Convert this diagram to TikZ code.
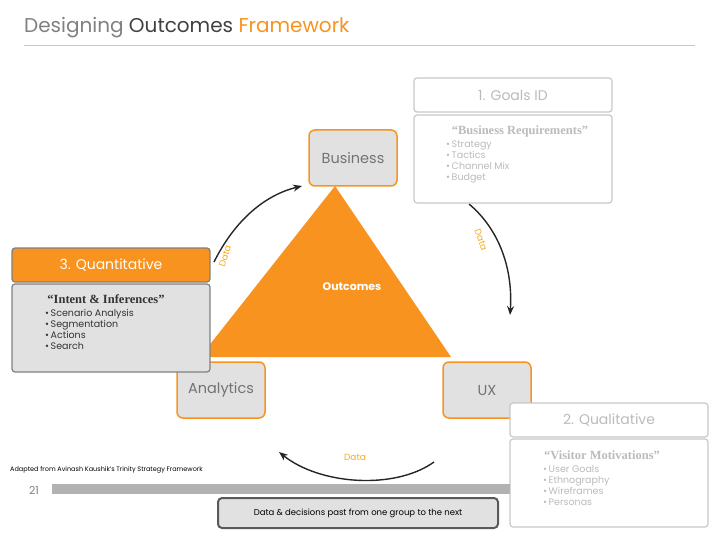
\documentclass[tikz,border=0pt]{standalone}
\usepackage{fontspec}
\usetikzlibrary{arrows.meta}
\setmainfont{Poppins}
\newfontfamily\serifb{Liberation Serif}
\definecolor{org}{HTML}{F7931E}
\definecolor{lg}{HTML}{C8C8C8}
\definecolor{bx}{HTML}{E1E1E1}
\definecolor{tg}{HTML}{BBBBBB}
\definecolor{dg}{HTML}{808080}
\begin{document}
\begin{tikzpicture}[x=1pt,y=-1pt,
 corner/.style={draw=org,line width=1.5pt,fill=bx,rounded corners=6pt,minimum width=88pt,minimum height=56pt,font=\fontsize{14.5}{14.5}\selectfont,text=dg!90!black},
 faint/.style={draw=lg,line width=1.2pt,fill=white,rounded corners=3pt},
 bul/.style={font=\fontsize{9.5}{11}\selectfont,align=left,anchor=north west,inner sep=0pt},
 datal/.style={font=\fontsize{9}{9}\selectfont,text=org!80!yellow,inner sep=0pt},
 arc/.style={line width=1.4pt,draw=black!85,-{Stealth[length=9pt,width=7pt]}}]
\useasboundingbox (0,0) rectangle (720,540);
\node[anchor=west,inner sep=0pt,font=\fontsize{20}{20}\selectfont] (title) at (24,28) {\textcolor{dg}{Designing} \textcolor{black!75}{Outcomes} \textcolor{org}{Framework}};
\draw[lg,line width=0.8pt] (24,45) coordinate (ul1) -- (695,45) coordinate (ul2);
% triangle
\coordinate (ta) at (335,186); \coordinate (tb) at (200,357); \coordinate (tc) at (451,357);
\fill[org] (ta) -- (tb) -- (tc) -- cycle;
\node[text=white,font=\fontsize{11}{11}\selectfont\bfseries] (out) at (352,287) {Outcomes};
\node[corner] (bus) at (353,158) {Business};
\node[corner] (ana) at (221,390) {Analytics};
\node[corner] (ux) at (487,390) {UX};
% arcs
\coordinate (a1s) at (214,262); \coordinate (a1e) at (302,186);
\draw[arc] (a1s) .. controls (235,220) and (265,195) .. (a1e);
\node[datal,rotate=72] (d1) at (225,256) {Data};
\coordinate (a2s) at (469,204); \coordinate (a2e) at (510,315);
\draw[arc] (a2s) .. controls (500,230) and (513,270) .. (a2e);
\node[datal,rotate=-70] (d2) at (481,240) {Data};
\coordinate (a3s) at (434,462); \coordinate (a3e) at (279,452);
\draw[arc] (a3s) .. controls (395,490) and (320,485) .. (a3e);
\node[datal] (d3) at (355,457) {Data};
% goals
\node[faint,minimum width=198pt,minimum height=34pt,text=tg,font=\fontsize{14}{14}\selectfont] (gh) at (513,95) {1. Goals ID};
\node[faint,minimum width=198pt,minimum height=88pt] (gb) at (513,159) {};
\node[text=tg,font=\serifb\bfseries\fontsize{12.5}{12.5}\selectfont] (gt) at (520,131) {“Business Requirements”};
\node[bul,text=tg] (gl) at (446,141) {•\,Strategy\\•\,Tactics\\•\,Channel Mix\\•\,Budget};
% quantitative
\node[draw=dg,line width=1.2pt,fill=org,rounded corners=3pt,minimum width=198pt,minimum height=34pt,text=white,font=\fontsize{14}{14}\selectfont] (qh) at (111,265) {3. Quantitative};
\node[draw=dg,line width=1.2pt,fill=bx,rounded corners=3pt,minimum width=198pt,minimum height=88pt] (qb) at (111,328) {};
\node[text=black!80,font=\serifb\bfseries\fontsize{12.5}{12.5}\selectfont] (qt) at (106,299) {“Intent \& Inferences”};
\node[bul,text=black!80] (ql) at (45,309) {•\,Scenario Analysis\\•\,Segmentation\\•\,Actions\\•\,Search};
% qualitative
\node[faint,minimum width=198pt,minimum height=34pt,text=tg,font=\fontsize{14}{14}\selectfont] (lh) at (609,420) {2. Qualitative};
\node[faint,minimum width=198pt,minimum height=88pt] (lb) at (609,483) {};
\node[text=tg,font=\serifb\bfseries\fontsize{12.5}{12.5}\selectfont] (lt) at (602,455) {“Visitor Motivations”};
\node[bul,text=tg] (ll) at (543,465) {•\,User Goals\\•\,Ethnography\\•\,Wireframes\\•\,Personas};
% footer
\node[anchor=west,inner sep=0pt,font=\fontsize{6.5}{6.5}\selectfont] (src) at (10,470) {Adapted from Avinash Kaushik's Trinity Strategy Framework};
\node[text=dg,font=\fontsize{11}{11}\selectfont] (pg) at (34,490) {21};
\fill[black!30] (52,484) rectangle (510,494);
\node[draw=black!65,line width=2pt,fill=bx,rounded corners=4pt,minimum width=280pt,minimum height=30pt,font=\fontsize{8.5}{8.5}\selectfont] (note) at (358,513) {Data \& decisions past from one group to the next};
\end{tikzpicture}
\end{document}
